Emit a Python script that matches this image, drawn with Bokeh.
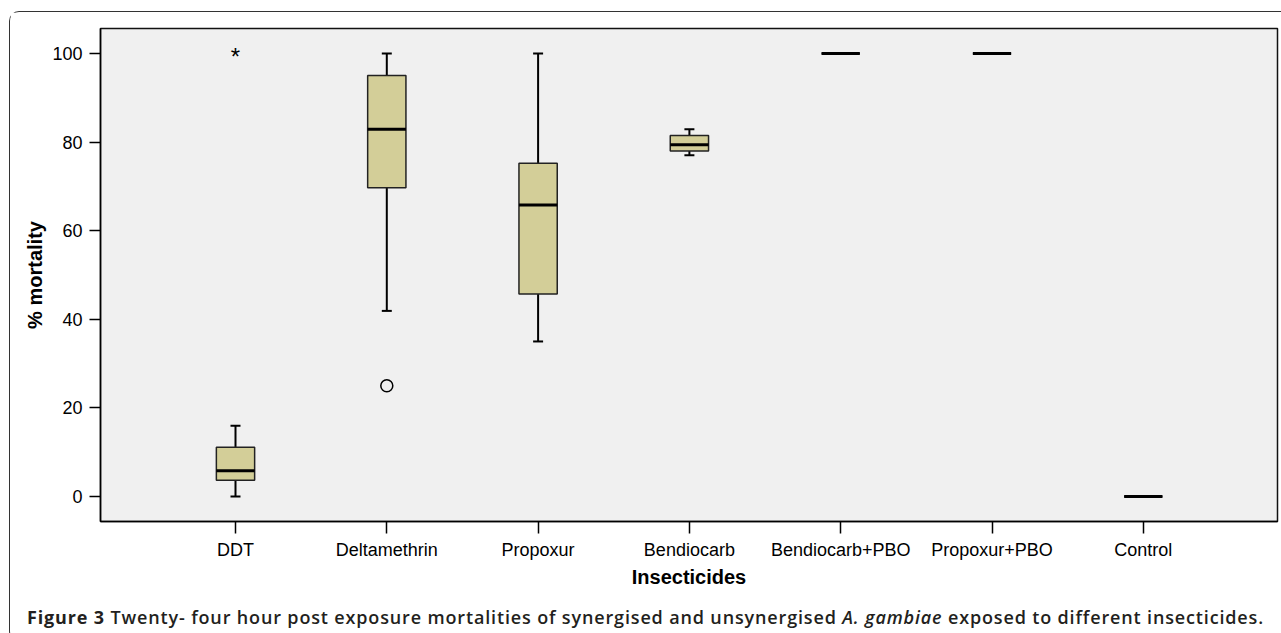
from bokeh.plotting import figure
from bokeh.layouts import column
from bokeh.models import FixedTicker, Range1d, ColumnDataSource, Div
from bokeh.core.properties import value
from bokeh.embed import file_html
from bokeh.resources import INLINE

# ---- data ----
categories = ["DDT", "Deltamethrin", "Propoxur", "Bendiocarb",
              "Bendiocarb+PBO", "Propoxur+PBO", "Control"]
lower_whisker = [0.0, 41.9, 35.0, 77.0, 100.0, 100.0, 0.0]
q1 = [3.7, 69.7, 45.7, 78.0, 100.0, 100.0, 0.0]
median = [5.8, 82.9, 65.8, 79.4, 100.0, 100.0, 0.0]
q3 = [11.1, 95.0, 75.2, 81.5, 100.0, 100.0, 0.0]
upper_whisker = [16.0, 100.0, 100.0, 82.9, 100.0, 100.0, 0.0]
outlier_cats = ["Deltamethrin"]
outlier_vals = [25.0]
extreme_cats = ["DDT"]
extreme_vals = [100.0]
y_ticks = [0, 20, 40, 60, 80, 100]

x_label = "Insecticides"
y_label = "% mortality"
caption_parts = ["Figure 3",
                 "Twenty- four hour post exposure mortalities of synergised and unsynergised",
                 "A. gambiae",
                 "exposed to different insecticides."]

# ---- layout helpers (page pixel -> data coordinates for the ranges) ----
X0_PX, X_STEP = 235.0, 151.3
Y0_PX, Y_STEP = 497.0, 4.44


def px_x(p):
    return (p - X0_PX) / X_STEP


def px_y(p):
    return (Y0_PX - p) / Y_STEP


OX, OY = 10, 12          # page offset of the content (margin + border)
W = 1270
H1, H2 = 578, 40
idx = {c: i for i, c in enumerate(categories)}
xs = list(range(len(categories)))
box_w = 0.253
cap_w = 0.066

src = ColumnDataSource(dict(x=xs, lw=lower_whisker, q1=q1, med=median, q3=q3, uw=upper_whisker,
                            cl=[x - cap_w / 2 for x in xs], cr=[x + cap_w / 2 for x in xs],
                            bl=[x - box_w / 2 for x in xs], br=[x + box_w / 2 for x in xs]))

p = figure(width=W, height=H1, output_backend="svg", toolbar_location=None,
           x_range=Range1d(px_x(100), px_x(1277)), y_range=Range1d(px_y(522), px_y(28)),
           min_border_left=100 - OX, min_border_right=W - (1277 - OX), min_border_top=28 - OY,
           min_border_bottom=H1 - (522 - OY))

p.background_fill_color = "#f0f0f0"
p.border_fill_color = "white"
p.outline_line_color = "#111111"
p.outline_line_width = 1.5
p.xgrid.visible = False
p.ygrid.visible = False

# whiskers
p.segment(x0="x", y0="uw", x1="x", y1="q3", source=src, line_color="black", line_width=2)
p.segment(x0="x", y0="lw", x1="x", y1="q1", source=src, line_color="black", line_width=2)
p.segment(x0="cl", y0="uw", x1="cr", y1="uw", source=src, line_color="black", line_width=2)
p.segment(x0="cl", y0="lw", x1="cr", y1="lw", source=src, line_color="black", line_width=2)
# boxes
p.vbar(x="x", width=box_w, bottom="q1", top="q3", source=src,
       fill_color="#d3ce98", line_color="#222222", line_width=1.5)
# medians
p.segment(x0="bl", y0="med", x1="br", y1="med", source=src, line_color="black", line_width=3)

# outliers
p.scatter(x=[idx[c] for c in outlier_cats], y=outlier_vals, marker="circle", size=12,
          fill_color=None, line_color="black", line_width=1.5)
p.text(x=[idx[c] for c in extreme_cats], y=extreme_vals, text=["*"] * len(extreme_vals),
       text_font=value("Liberation Sans"), text_font_size="24px", text_align="center",
       text_baseline="alphabetic", y_offset=3, text_color="black")

# axes
p.xaxis.ticker = FixedTicker(ticks=xs)
p.xaxis.major_label_overrides = {i: c for i, c in enumerate(categories)}
p.yaxis.ticker = FixedTicker(ticks=y_ticks)
for ax in (p.xaxis[0], p.yaxis[0]):
    ax.axis_line_color = "black"
    ax.axis_line_width = 1.5
    ax.major_tick_line_color = "black"
    ax.major_tick_line_width = 1.5
    ax.major_tick_in = 0
    ax.minor_tick_line_color = None
    ax.major_label_text_font = "Liberation Sans"
    ax.major_label_text_font_size = "18px"
    ax.major_label_text_color = "black"
    ax.axis_label_text_font = "Liberation Sans"
    ax.axis_label_text_font_size = "20px"
    ax.axis_label_text_font_style = "bold"
    ax.axis_label_text_color = "black"
p.xaxis.major_tick_out = 12
p.yaxis.major_tick_out = 11
p.xaxis.major_label_standoff = 6
p.yaxis.major_label_standoff = 7
p.xaxis.axis_label = x_label
p.yaxis.axis_label = y_label
p.xaxis.axis_label_standoff = 3
p.yaxis.axis_label_standoff = 3

# ---- caption ----
caption_html = ('<span style="font-weight:700">%s</span> %s <i>%s</i> %s'
                % tuple(caption_parts))
cap = Div(text=caption_html, width=W, height=H2,
          styles={"font-family": "'Open Sans', sans-serif", "font-size": "18px",
                  "font-weight": "600", "letter-spacing": "0.85px", "color": "#231f20",
                  "line-height": "20px", "white-space": "nowrap",
                  "padding-top": "12px", "padding-left": "12px", "box-sizing": "border-box",
                  "overflow": "hidden"})

layout = column(p, cap, spacing=0, margin=(11, 0, 0, 9),
                styles={"border-top": "1px solid #333333", "border-left": "1px solid #333333",
                        "border-bottom": "1px solid #333333",
                        "border-top-left-radius": "10px", "border-bottom-left-radius": "10px"})

open("out.html", "w").write(file_html(layout, INLINE))
